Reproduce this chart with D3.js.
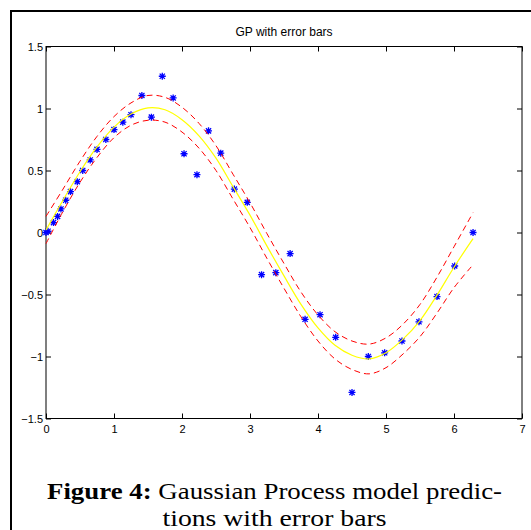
<!DOCTYPE html>
<html>
<head>
<meta charset="utf-8">
<script src="https://cdn.jsdelivr.net/npm/d3@7"></script>
<style>
  html, body { margin: 0; padding: 0; background: #fff; }
  svg { display: block; }
</style>
</head>
<body>
<svg id="chart" width="531" height="530"></svg>
<script>
// ---- data ----
const title = "GP with error bars";
const xTicks = [0, 1, 2, 3, 4, 5, 6, 7];
const yTicks = [-1.5, -1, -0.5, 0, 0.5, 1, 1.5];

// observed points (blue asterisks)
const obsX = [0.00, 0.03, 0.11, 0.17, 0.22, 0.29, 0.36, 0.46, 0.54, 0.65, 0.75, 0.88, 1.00, 1.13, 1.25, 1.41, 1.55, 1.71, 1.87,
              2.03, 2.22, 2.39, 2.57, 2.77, 2.96, 3.17, 3.38, 3.59, 3.81, 4.03, 4.26, 4.50, 4.74, 4.98, 5.235, 5.485, 5.75, 6.01, 6.28];
const obsY = [0.00, 0.01, 0.08, 0.13, 0.19, 0.26, 0.33, 0.41, 0.50, 0.585, 0.67, 0.75, 0.83, 0.89, 0.95, 1.105, 0.93, 1.26, 1.085,
              0.635, 0.466, 0.82, 0.64, 0.35, 0.243, -0.34, -0.324, -0.17, -0.70, -0.663, -0.845, -1.29, -1.00, -0.97, -0.875, -0.72, -0.517, -0.27, 0.00];

// GP predictive mean (yellow) and error band half-width (red dashed)
const gridX = [0, 0.25, 0.5, 0.75, 1.0, 1.25, 1.5, 1.75, 2.0, 2.25, 2.5, 2.75, 3.0, 3.25, 3.5, 3.75, 4.0, 4.25, 4.5, 4.75, 5.0, 5.25, 5.5, 5.75, 6.0, 6.28];
const meanY = [0.02, 0.26, 0.49, 0.69, 0.85, 0.955, 1.005, 0.99, 0.91, 0.78, 0.60, 0.37, 0.14, -0.11, -0.35, -0.58, -0.77, -0.91, -0.99, -1.02, -0.97, -0.86, -0.71, -0.505, -0.28, -0.05];
const bandW = [0.11, 0.09, 0.085, 0.085, 0.085, 0.09, 0.1, 0.1, 0.1, 0.1, 0.1, 0.1, 0.1, 0.1, 0.1, 0.1, 0.105, 0.11, 0.115, 0.12, 0.12, 0.12, 0.13, 0.145, 0.165, 0.21];

const captionBold = "Figure 4:";
const captionRest1 = " Gaussian Process model predic-";
const captionLine2 = "tions with error bars";

// ---- drawing ----
const svg = d3.select("#chart");

// outer frame (page border)
svg.append("path")
  .attr("d", "M11,545V11H545")
  .attr("fill", "none").attr("stroke", "#000").attr("stroke-width", 2);

const x = d3.scaleLinear().domain([0, 7]).range([46, 522]);
const y = d3.scaleLinear().domain([-1.5, 1.5]).range([418.5, 46.5]);

const fmt = d => d3.format("~g")(d);
const axisFont = "'Liberation Sans', Arial, Helvetica, sans-serif";

function styleAxis(g) {
  g.select(".domain").remove();
  g.selectAll(".tick line").attr("stroke", "#000").attr("stroke-width", 1);
  g.selectAll(".tick text").attr("fill", "#000").style("font-family", axisFont).style("font-size", "11px");
}

svg.append("g").attr("transform", `translate(0,${y.range()[0]})`)
  .call(d3.axisBottom(x).tickValues(xTicks).tickFormat(fmt).tickSizeInner(-5).tickSizeOuter(0).tickPadding(7))
  .call(styleAxis);
svg.append("g").attr("transform", `translate(0,${y.range()[1]})`)
  .call(d3.axisTop(x).tickValues(xTicks).tickFormat("").tickSizeInner(-5).tickSizeOuter(0))
  .call(styleAxis);
svg.append("g").attr("transform", `translate(${x.range()[0]},0)`)
  .call(d3.axisLeft(y).tickValues(yTicks).tickFormat(fmt).tickSizeInner(-5).tickSizeOuter(0).tickPadding(3))
  .call(styleAxis);
svg.append("g").attr("transform", `translate(${x.range()[1]},0)`)
  .call(d3.axisRight(y).tickValues(yTicks).tickFormat("").tickSizeInner(-5).tickSizeOuter(0))
  .call(styleAxis);

// plot box
svg.append("rect")
  .attr("x", x.range()[0]).attr("y", y.range()[1])
  .attr("width", x.range()[1] - x.range()[0]).attr("height", y.range()[0] - y.range()[1])
  .attr("fill", "none").attr("stroke", "#000").attr("stroke-width", 1);

// title
svg.append("text")
  .attr("x", (x.range()[0] + x.range()[1]) / 2).attr("y", 36)
  .attr("text-anchor", "middle")
  .style("font-family", axisFont).style("font-size", "12px")
  .text(title);

// points
const pts = obsX.map((v, i) => ({ x: v, y: obsY[i] }));
const star = "M-3.5,0H3.5M0,-3.5V3.5M-2.6,-2.6L2.6,2.6M-2.6,2.6L2.6,-2.6";
svg.append("g").selectAll("path").data(pts).join("path")
  .attr("transform", d => `translate(${x(d.x)},${y(d.y)})`)
  .attr("d", star)
  .attr("fill", "none").attr("stroke", "#0000ff").attr("stroke-width", 1.3);

// mean and band
const grid = gridX.map((v, i) => ({ x: v, m: meanY[i], w: bandW[i] }));
const lineGen = acc => d3.line().x(d => x(d.x)).y(d => y(acc(d))).curve(d3.curveCatmullRom);

svg.append("path").datum(grid)
  .attr("d", lineGen(d => d.m))
  .attr("fill", "none").attr("stroke", "#ffff00").attr("stroke-width", 1.2);

[d => d.m + d.w, d => d.m - d.w].forEach(acc => {
  svg.append("path").datum(grid)
    .attr("d", lineGen(acc))
    .attr("fill", "none").attr("stroke", "#ff0000").attr("stroke-width", 1)
    .attr("stroke-dasharray", "6,4");
});

// caption
const capFont = "'Liberation Serif', 'DejaVu Serif', serif";
const cx = 274.5;
const t1 = svg.append("text")
  .attr("x", cx).attr("y", 499).attr("text-anchor", "middle")
  .style("font-family", capFont).style("font-size", "24px");
t1.append("tspan").style("font-weight", "bold").text(captionBold);
t1.append("tspan").text(captionRest1);
t1.attr("textLength", 455).attr("lengthAdjust", "spacingAndGlyphs");

svg.append("text")
  .attr("x", cx).attr("y", 526).attr("text-anchor", "middle")
  .style("font-family", capFont).style("font-size", "24px")
  .attr("textLength", 224).attr("lengthAdjust", "spacingAndGlyphs")
  .text(captionLine2);
</script>
</body>
</html>
